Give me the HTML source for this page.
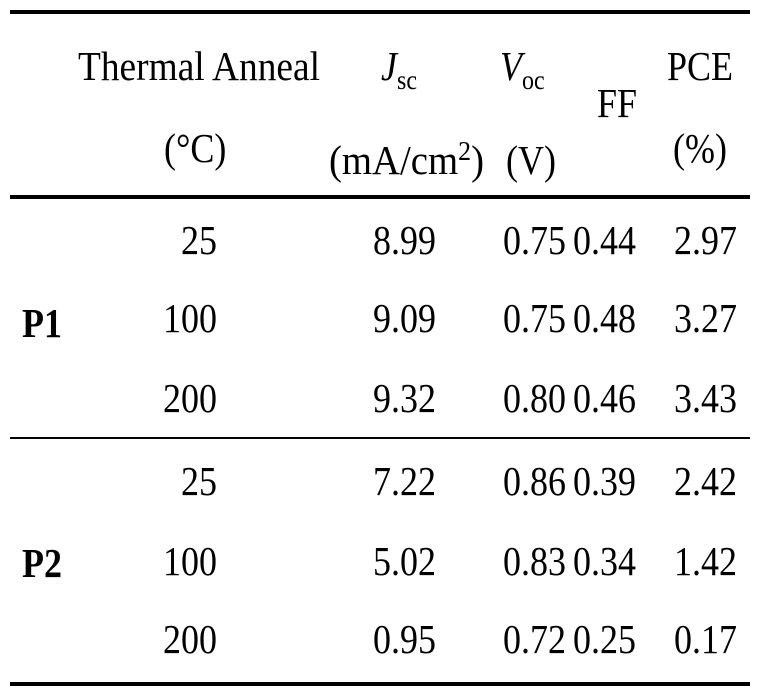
<!DOCTYPE html>
<html><head><meta charset="utf-8"><style>
html,body{margin:0;padding:0;background:#fff;}
svg{display:block;font-family:"Liberation Serif",serif;}
</style></head><body>
<svg width="766" height="688" viewBox="0 0 766 688">
<rect x="10" y="10" width="740" height="4" fill="#000"/>
<rect x="10" y="195" width="740" height="4" fill="#000"/>
<rect x="10" y="437" width="740" height="2" fill="#000"/>
<rect x="10" y="682" width="740" height="4" fill="#000"/>
<g font-size="36" fill="#000">
<text transform="translate(78,80) scale(1,1.15)" textLength="242" lengthAdjust="spacingAndGlyphs">Thermal Anneal</text>
<text transform="translate(164,162) scale(1,1.15)">(°C)</text>
<text transform="translate(381,80) scale(1,1.15)" font-style="italic">J<tspan font-size="24" font-style="normal" dy="8">sc</tspan></text>
<text transform="translate(329,174) scale(1,1.15)" textLength="155" lengthAdjust="spacingAndGlyphs">(mA/cm<tspan font-size="24" dy="-12">2</tspan><tspan dy="12">)</tspan></text>
<text transform="translate(500,80) scale(1,1.15)" font-style="italic">V<tspan font-size="24" font-style="normal" dy="8">oc</tspan></text>
<text transform="translate(506,174) scale(1,1.15)">(V)</text>
<text transform="translate(597,117) scale(1,1.15)">FF</text>
<text transform="translate(667,80) scale(1,1.15)">PCE</text>
<text transform="translate(673,162) scale(1,1.15)">(%)</text>
<text transform="translate(22,337) scale(1,1.15)" font-weight="bold">P1</text>
<text transform="translate(22,577) scale(1,1.15)" font-weight="bold">P2</text>
</g>
<g id="rows" font-size="36" fill="#000" text-anchor="end"></g>
</svg>
<script>
const temps=["25","100","200","25","100","200"];
const jsc=["8.99","9.09","9.32","7.22","5.02","0.95"];
const voc=["0.75","0.75","0.80","0.86","0.83","0.72"];
const ff=["0.44","0.48","0.46","0.39","0.34","0.25"];
const pce=["2.97","3.27","3.43","2.42","1.42","0.17"];
const rowY=[254,332,412,495,575,653];
const g=document.getElementById('rows');
const cols=[[temps,217,'temp'],[jsc,436,'jsc'],[voc,566,'voc'],[ff,636,'ff'],[pce,737,'pce']];
for(let i=0;i<6;i++){
 for(const [arr,x,n] of cols){
  const t=document.createElementNS('http://www.w3.org/2000/svg','text');
  t.setAttribute('transform','translate('+x+','+rowY[i]+') scale(1,1.15)');
  t.textContent=arr[i];
  
  
  g.appendChild(t);
 }
}
</script>
</body></html>
